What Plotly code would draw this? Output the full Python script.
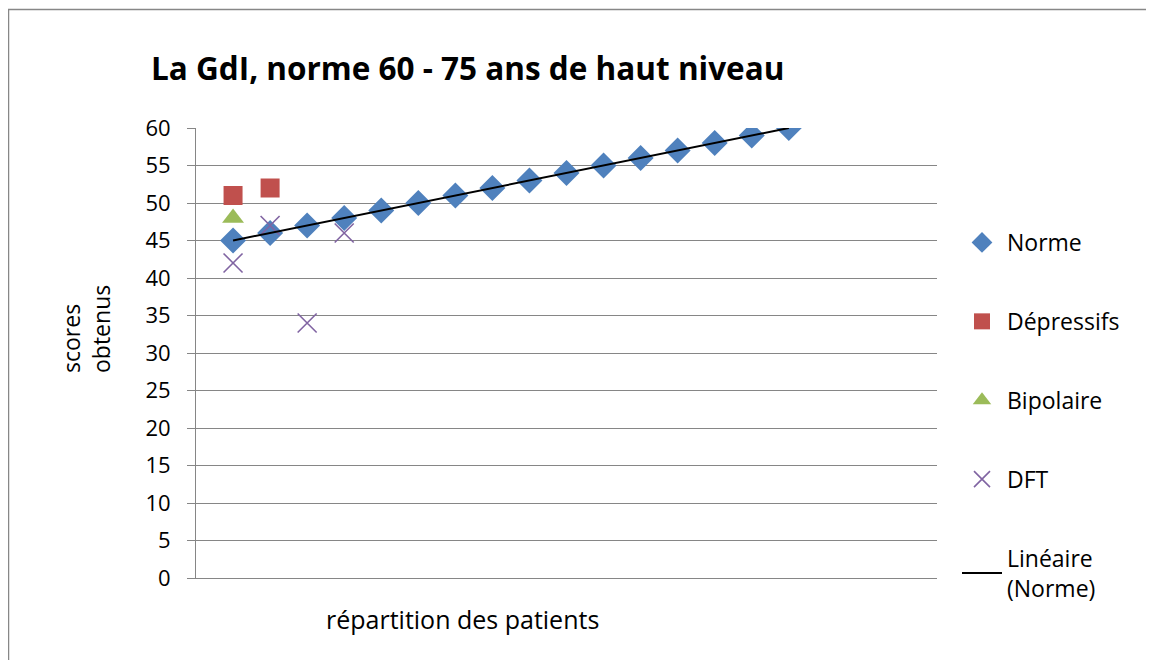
import numpy as np
import plotly.graph_objects as go

# Data
norme_x = list(range(1, 17))
norme_y = [45, 46, 47, 48, 49, 50, 51, 52, 53, 54, 55, 56, 57, 58, 59, 60]
depr_x = [1, 2]
depr_y = [51, 52]
bip_x = [1]
bip_y = [48]
dft_x = [1, 2, 3, 4]
dft_y = [42, 47, 34, 46]
y_ticks = list(range(0, 61, 5))

# page body has an 8px margin; work in page pixel coords and subtract it
OFF = 8
W, H = 1154 - OFF, 660 - OFF
L, R, T, B = 196 - OFF, 1154 - 937, 128 - OFF, 660 - 578
pw, ph = W - L - R, H - T - B


def px(xp):
    return (xp - OFF - L) / pw


def py(yp):
    return (T + ph - (yp - OFF)) / ph


FONT = "Open Sans"

fig = go.Figure()
fig.add_trace(go.Scatter(x=norme_x, y=norme_y, mode="markers", name="Norme",
                         legendgroup="a",
                         marker=dict(symbol="diamond", size=20, color="#4F81BD")))
fig.add_trace(go.Scatter(x=depr_x, y=depr_y, mode="markers", name="Dépressifs",
                         legendgroup="b",
                         marker=dict(symbol="square", size=19, color="#C0504D")))
fig.add_trace(go.Scatter(x=bip_x, y=bip_y, mode="markers", name="Bipolaire",
                         legendgroup="c",
                         marker=dict(symbol="triangle-up", size=19, color="#9BBB59")))
fig.add_trace(go.Scatter(x=dft_x, y=dft_y, mode="markers", name="DFT",
                         legendgroup="d",
                         marker=dict(symbol="x-thin-open", size=19, color="#8064A2",
                                     line=dict(width=1.6, color="#8064A2"))))
# linear trendline of Norme
coef = np.polyfit(norme_x, norme_y, 1)
tx = [min(norme_x), max(norme_x)]
ty = [coef[0] * v + coef[1] for v in tx]
fig.add_trace(go.Scatter(x=tx, y=ty, mode="lines", name="Linéaire<br>(Norme)",
                         legendgroup="e",
                         line=dict(color="black", width=2)))

fig.update_layout(
    width=W, height=H,
    margin=dict(l=L, r=R, t=T, b=B),
    paper_bgcolor="white", plot_bgcolor="white",
    font=dict(family=FONT, size=22, color="black"),
    title=dict(text="<b>La GdI, norme 60 - 75 ans de haut niveau</b>",
               x=(151 - OFF) / W, xanchor="left", y=1 - (69 - OFF) / H, yanchor="middle",
               font=dict(family=FONT, size=31.5, color="black")),
    showlegend=True,
    legend=dict(x=px(957), xanchor="left", y=py(221),
                yanchor="top", tracegroupgap=46,
                font=dict(family=FONT, size=23, color="black"),
                bgcolor="rgba(0,0,0,0)", itemwidth=40),
    xaxis=dict(range=[0, 20], showgrid=False, showticklabels=False, ticks="",
               zeroline=False, showline=True, linecolor="#868686", linewidth=1,
               fixedrange=True),
    yaxis=dict(range=[0, 60], tickvals=y_ticks, showgrid=True, gridcolor="#868686",
               gridwidth=1, zeroline=False, showline=True, linecolor="#868686",
               linewidth=1, ticks="outside", ticklen=8, tickcolor="#868686",
               ticklabelstandoff=12,
               tickfont=dict(family=FONT, size=22),
               fixedrange=True),
    shapes=[dict(type="rect", xref="paper", yref="paper",
                 x0=px(8.5), x1=px(1170),
                 y0=py(680), y1=py(9.5),
                 line=dict(color="#878787", width=1.5), fillcolor="rgba(0,0,0,0)",
                 layer="below")],
    annotations=[
        dict(text="répartition des patients", xref="paper", yref="paper",
             x=px(462), y=py(619), xanchor="center",
             yanchor="middle", showarrow=False,
             font=dict(family=FONT, size=25, color="black")),
        dict(text="scores<br>obtenus", xref="paper", yref="paper",
             x=px(86), y=py(329), xanchor="center", yanchor="middle",
             textangle=-90, align="left", showarrow=False,
             font=dict(family=FONT, size=23, color="black")),
    ],
)

fig.write_html("out.html")
